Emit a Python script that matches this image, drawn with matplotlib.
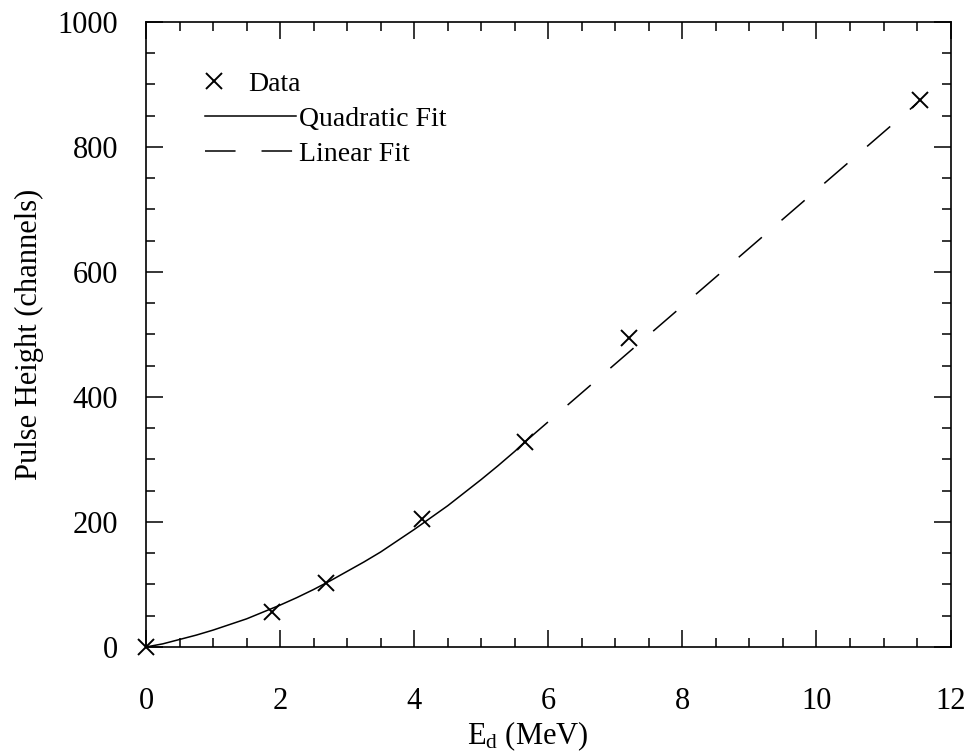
import matplotlib
matplotlib.use("Agg")
import matplotlib.pyplot as plt
from matplotlib.ticker import MultipleLocator

plt.rcParams['font.family'] = ['Liberation Serif', 'DejaVu Serif']
plt.rcParams['mathtext.fontset'] = 'custom'
plt.rcParams['mathtext.rm'] = 'Liberation Serif'
plt.rcParams['mathtext.it'] = 'Liberation Serif:italic'

# measured points
energy = [0.0, 1.88, 2.68, 4.12, 5.65, 7.21, 11.55]
pulse = [0, 56, 102, 205, 328, 494, 875]

# quadratic fit
quad_x = [0.0, 0.25, 0.5, 0.75, 1.0, 1.25, 1.5, 1.75, 2.0, 2.25, 2.5, 2.75, 3.0,
          3.25, 3.5, 3.75, 4.0, 4.25, 4.5, 4.75, 5.0, 5.25, 5.5, 5.65]
quad_y = [0, 5, 12, 19, 27, 36, 45, 56, 67, 79, 92, 106, 121,
          136, 152, 170, 188, 207, 226, 247, 268, 290, 313, 328]

# linear fit, end points of the dashed line
lin_x = [5.65, 11.5]
lin_y = [328, 870]

fig = plt.figure(figsize=(9.7, 7.56), dpi=100)
ax = fig.add_axes([0.1505, 0.1442, 0.8295, 0.8267])

data_h, = ax.plot(energy, pulse, 'x', color='black', markersize=12, markeredgewidth=1.4,
                  label='Data', clip_on=False, zorder=5)
quad_h, = ax.plot(quad_x, quad_y, '-', color='black', lw=1.1, label='Quadratic Fit')
lin_h, = ax.plot(lin_x, lin_y, '-', color='black', lw=1.1, dashes=(20, 17), label='Linear Fit')

ax.set_xlim(0, 12)
ax.set_ylim(0, 1000)
ax.xaxis.set_major_locator(MultipleLocator(2))
ax.xaxis.set_minor_locator(MultipleLocator(0.5))
ax.yaxis.set_major_locator(MultipleLocator(200))
ax.yaxis.set_minor_locator(MultipleLocator(50))
ax.tick_params(which='both', direction='in', top=True, right=True, width=1.1, labelsize=22)
ax.tick_params(which='major', length=12)
ax.tick_params(which='minor', length=6.5)
ax.tick_params(axis='x', which='major', pad=29)
ax.tick_params(axis='y', which='major', pad=20)
for s in ax.spines.values():
    s.set_linewidth(1.2)

ax.set_xlabel(r'E$_{\mathregular{d}}$ (MeV)', fontsize=22, x=0.475, labelpad=2)
ax.set_ylabel('Pulse Height (channels)', fontsize=22, labelpad=10)

leg1 = ax.legend(handles=[data_h], loc='center left', bbox_to_anchor=(0.067, 0.9),
                 frameon=False, fontsize=20, handlelength=1.0, handletextpad=0.75,
                 borderpad=0, borderaxespad=0)
ax.add_artist(leg1)
ax.legend(handles=[quad_h, lin_h], loc='center left', bbox_to_anchor=(0.073, 0.817),
          frameon=False, fontsize=20, handlelength=3.3, handletextpad=0.1,
          labelspacing=0.35, borderpad=0, borderaxespad=0)

fig.savefig('out.png', dpi=100)
